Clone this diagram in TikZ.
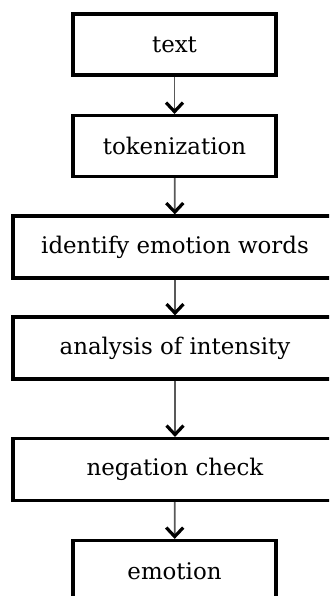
\documentclass[tikz,border=0pt]{standalone}
\usepackage{fontspec}
\setmainfont{DejaVu Serif}
\usetikzlibrary{arrows.meta}
\begin{document}
\begin{tikzpicture}[x=1pt,y=-1pt,
  box/.style={draw=black,line width=3.2pt,fill=white,inner sep=0pt,
    font=\fontsize{22.9}{26}\selectfont,text=black},
  small/.style={box,minimum width=203pt,minimum height=61pt},
  wide/.style={box,minimum width=324pt,minimum height=62pt},
  flow/.style={draw=black!65,line width=1.8pt,
    -{Straight Barb[length=9pt,width=17pt,line width=3.2pt,color=black]}}]
\useasboundingbox (0,0) rectangle (329,596);
\clip (0,0) rectangle (329,596);
\node[small] (t) at (174.5,44.5) {text};
\node[small] (k) at (174.5,146) {tokenization};
\node[wide] (i) at (175,247) {identify emotion words};
\node[wide] (a) at (175,348) {analysis of intensity};
\node[wide] (n) at (175,469.5) {negation check};
\node[small] (e) at (174.5,571) {emotion};
\draw[flow] (t) -- (k);
\draw[flow] (k) -- (i);
\draw[flow] (i) -- (a);
\draw[flow] (a) -- (n);
\draw[flow] (n) -- (e);
\end{tikzpicture}
\end{document}
